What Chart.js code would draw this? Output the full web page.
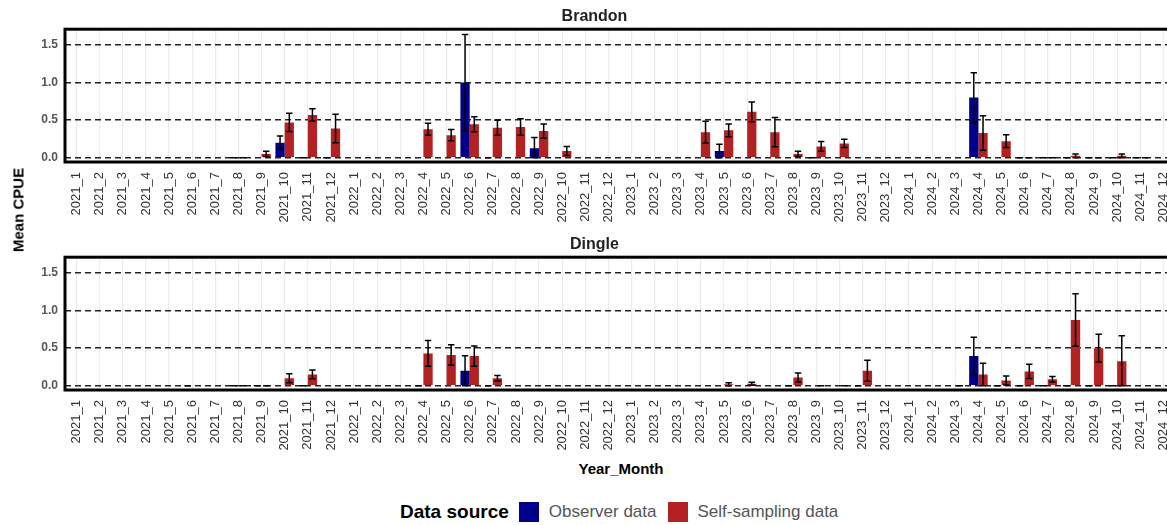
<!DOCTYPE html>
<html>
<head>
<meta charset="utf-8">
<title>Mean CPUE by month - Brandon and Dingle</title>
<script src="https://cdn.jsdelivr.net/npm/chart.js"></script>
<style>
    body { margin: 0; width: 1167px; height: 525px; overflow: hidden; position: relative; background: #fff;
           font-family: "Liberation Sans", Arial, sans-serif; }
    canvas { position: absolute; left: 0; }
    #brandon { top: 0; }
    #dingle { top: 228px; }
    .ytitle { position: absolute; left: 18px; top: 210px; transform: translate(-50%, -50%) rotate(-90deg);
              font-weight: bold; font-size: 15px; white-space: nowrap; color: #000; }
    .xtitle { position: absolute; left: 621px; top: 468px; transform: translate(-50%, -50%);
              font-weight: bold; font-size: 15px; white-space: nowrap; color: #000; }
    .legend { position: absolute; left: 400px; top: 500px; height: 24px; display: flex; align-items: center; white-space: nowrap; }
    .legend .ttl { font-weight: bold; font-size: 19px; color: #000; margin-right: 10px; }
    .legend .box { width: 20px; height: 20px; margin-right: 10px; }
    .legend .lbl { font-size: 17px; color: #555; margin-right: 11px; }
</style>
</head>
<body>
<canvas id="brandon" width="1189" height="222"></canvas>
<canvas id="dingle" width="1189" height="222"></canvas>
<div class="ytitle">Mean CPUE</div>
<div class="xtitle">Year_Month</div>
<div class="legend">
    <span class="ttl">Data source</span>
    <span class="box" style="background:#00008B"></span><span class="lbl">Observer data</span>
    <span class="box" style="background:#B22222"></span><span class="lbl">Self-sampling data</span>
</div>

<script>
// months on the x axis
const months = [
    '2021_1','2021_2','2021_3','2021_4','2021_5','2021_6','2021_7','2021_8','2021_9','2021_10','2021_11','2021_12',
    '2022_1','2022_2','2022_3','2022_4','2022_5','2022_6','2022_7','2022_8','2022_9','2022_10','2022_11','2022_12',
    '2023_1','2023_2','2023_3','2023_4','2023_5','2023_6','2023_7','2023_8','2023_9','2023_10','2023_11','2023_12',
    '2024_1','2024_2','2024_3','2024_4','2024_5','2024_6','2024_7','2024_8','2024_9','2024_10','2024_11','2024_12'
];
const yTicks = [0, 0.5, 1.0, 1.5];

// Brandon - observer data (mean CPUE and standard error), one row per year
const brandonObs = [
    null,null,null,null,null,null,null,0,null,0.2,0,0,
    null,null,null,null,null,1.0,0,null,0.125,null,null,null,
    null,null,null,null,0.09,null,null,null,0,null,null,null,
    null,null,null,0.8,null,0,0,0,0,0,0,null
];
const brandonObsSe = [
    null,null,null,null,null,null,null,0,null,0.09,0,0,
    null,null,null,null,null,0.64,0,null,0.145,null,null,null,
    null,null,null,null,0.09,null,null,null,0,null,null,null,
    null,null,null,0.33,null,0,0,0,0,0,0,null
];
// Brandon - self-sampling data
const brandonSelf = [
    null,null,null,null,null,null,null,0,0.05,0.47,0.57,0.39,
    null,null,null,0.38,0.30,0.445,0.40,0.41,0.355,0.09,null,null,
    null,null,null,0.34,0.365,0.61,0.34,0.05,0.15,0.19,null,null,
    null,null,null,0.33,0.22,0,0,0.025,0,0.025,0,null
];
const brandonSelfSe = [
    null,null,null,null,null,null,null,0,0.035,0.12,0.08,0.19,
    null,null,null,0.08,0.075,0.1,0.1,0.11,0.095,0.06,null,null,
    null,null,null,0.145,0.085,0.13,0.195,0.035,0.065,0.055,null,null,
    null,null,null,0.23,0.085,0,0,0.025,0,0.025,0,null
];

// Dingle - observer data
const dingleObs = [
    null,null,null,null,null,0,null,0,0,null,0,null,
    null,null,null,0,null,0.2,0,null,null,null,null,null,
    null,null,null,null,null,null,null,0,null,null,0,null,
    null,null,null,0.395,0,0,0,0,0,0,null,null
];
const dingleObsSe = [
    null,null,null,null,null,0,null,0,0,null,0,null,
    null,null,null,0,null,0.2,0,null,null,null,null,null,
    null,null,null,null,null,null,null,0,null,null,0,null,
    null,null,null,0.25,0,0,0,0,0,0,null,null
];
// Dingle - self-sampling data
const dingleSelf = [
    null,null,null,null,null,null,null,0,0,0.1,0.15,null,
    null,null,null,0.43,0.41,0.395,0.1,null,null,null,null,null,
    null,null,null,null,0.02,0.025,null,0.11,0,0,0.2,null,
    null,null,0,0.15,0.07,0.19,0.085,0.875,0.5,0.325,null,null
];
const dingleSelfSe = [
    null,null,null,null,null,null,null,0,0,0.06,0.058,null,
    null,null,null,0.17,0.135,0.135,0.037,null,null,null,null,null,
    null,null,null,null,0.02,0.02,null,0.06,0,0,0.14,null,
    null,null,0,0.15,0.06,0.095,0.036,0.35,0.185,0.34,null,null
];

// mean +/- se whiskers, lower end cut at 0
const errorBars = {
    id: 'errorBars',
    afterDatasetsDraw(chart) {
        const ctx = chart.ctx;
        const y = chart.scales.y;
        ctx.save();
        ctx.strokeStyle = '#000';
        ctx.lineWidth = 1.5;
        chart.data.datasets.forEach((ds, i) => {
            const meta = chart.getDatasetMeta(i);
            meta.data.forEach((bar, j) => {
                const m = ds.data[j];
                if (m === null) return;
                const se = ds.se[j] || 0;
                const top = y.getPixelForValue(m + se);
                const bot = y.getPixelForValue(Math.max(0, m - se));
                const x = bar.x, w = 3.2;
                ctx.beginPath();
                ctx.moveTo(x, top); ctx.lineTo(x, bot);
                ctx.moveTo(x - w, top); ctx.lineTo(x + w, top);
                ctx.moveTo(x - w, bot); ctx.lineTo(x + w, bot);
                ctx.stroke();
            });
        });
        ctx.restore();
    }
};

// thick black panel border
const panelBorder = {
    id: 'panelBorder',
    afterDraw(chart) {
        const a = chart.chartArea, ctx = chart.ctx;
        ctx.save();
        ctx.strokeStyle = '#000';
        ctx.lineWidth = 3;
        ctx.strokeRect(a.left, a.top, a.right - a.left, a.bottom - a.top);
        ctx.restore();
    }
};

function makePanel(id, title, obs, obsSe, self, selfSe) {
    const ctx = document.getElementById(id).getContext('2d');
    return new Chart(ctx, {
        type: 'bar',
        data: {
            labels: months,
            datasets: [
                { label: 'Observer data', data: obs, se: obsSe, backgroundColor: '#00008B', borderWidth: 0 },
                { label: 'Self-sampling data', data: self, se: selfSe, backgroundColor: '#B22222', borderWidth: 0 }
            ]
        },
        options: {
            responsive: false,
            animation: false,
            categoryPercentage: 0.8,
            barPercentage: 1.0,
            layout: { padding: 0 },
            plugins: {
                legend: { display: false },
                tooltip: { enabled: false },
                title: {
                    display: true,
                    text: title,
                    color: '#222',
                    font: { family: '"Liberation Sans", Arial, sans-serif', size: 16, weight: 'bold' },
                    padding: { top: 7, bottom: 3 }
                }
            },
            scales: {
                x: {
                    grid: { color: '#ebebeb', lineWidth: 1.2, offset: false, drawTicks: false },
                    border: { display: false },
                    ticks: {
                        autoSkip: false, maxRotation: 90, minRotation: 90, padding: 10,
                        color: '#333',
                        font: { family: '"Liberation Sans", Arial, sans-serif', size: 13 }
                    },
                    afterFit(scale) { scale.height = 60; }
                },
                y: {
                    min: -0.057,
                    max: 1.71,
                    afterBuildTicks(scale) { scale.ticks = yTicks.map(v => ({ value: v })); },
                    grid: { color: '#222', lineWidth: 1.6, drawTicks: false },
                    border: { display: false, dash: [6, 4] },
                    ticks: {
                        padding: 7,
                        color: '#555',
                        font: { family: '"Liberation Sans", Arial, sans-serif', size: 12, weight: 'bold' },
                        callback: v => v.toFixed(1)
                    },
                    afterFit(scale) { scale.width = 65; }
                }
            }
        },
        plugins: [errorBars, panelBorder]
    });
}

makePanel('brandon', 'Brandon', brandonObs, brandonObsSe, brandonSelf, brandonSelfSe);
makePanel('dingle', 'Dingle', dingleObs, dingleObsSe, dingleSelf, dingleSelfSe);
</script>
</body>
</html>
